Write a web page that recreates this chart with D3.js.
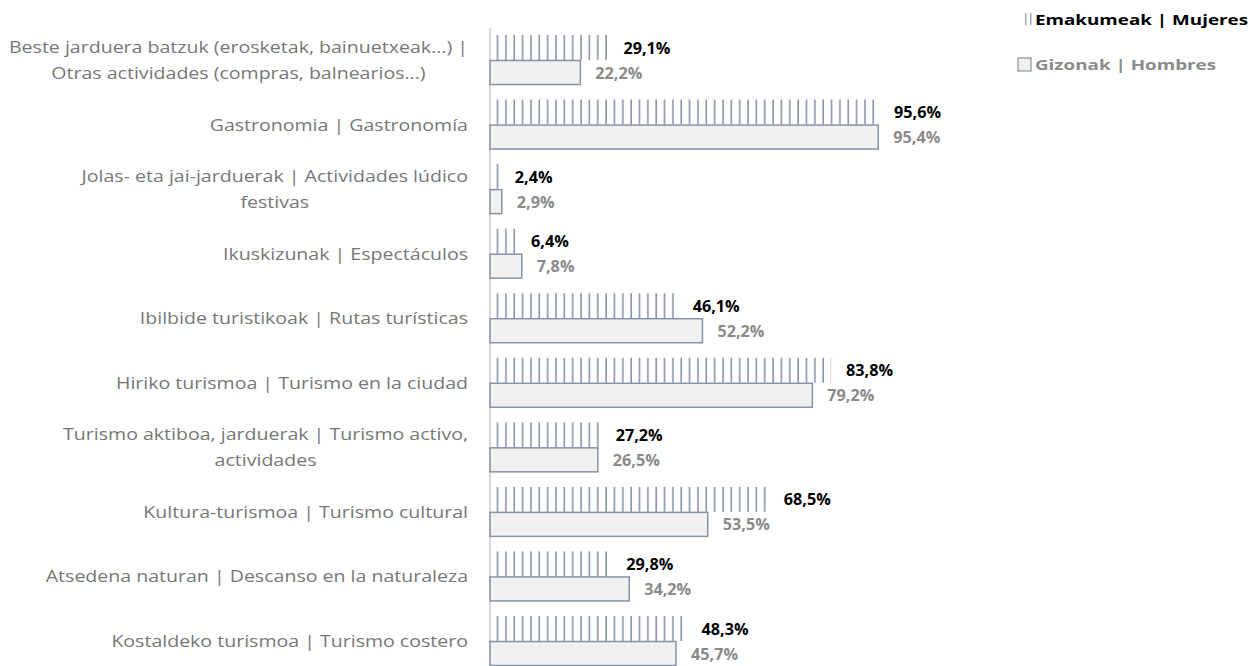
<!DOCTYPE html>
<html>
<head>
<meta charset="utf-8">
<script src="https://cdn.jsdelivr.net/npm/d3@7"></script>
<style>
  html, body { margin: 0; padding: 0; background: #ffffff; }
  svg { display: block; font-family: "Open Sans", "Noto Sans", sans-serif; }
</style>
</head>
<body>
<svg id="chart" width="1251" height="666"></svg>
<script>
// Activity categories, top to bottom (label lines split where the text wraps)
const categories = [
  ["Beste jarduera batzuk (erosketak, bainuetxeak...) |", "Otras actividades (compras, balnearios...)"],
  ["Gastronomia | Gastronomía"],
  ["Jolas- eta jai-jarduerak | Actividades lúdico", "festivas"],
  ["Ikuskizunak | Espectáculos"],
  ["Ibilbide turistikoak | Rutas turísticas"],
  ["Hiriko turismoa | Turismo en la ciudad"],
  ["Turismo aktiboa, jarduerak | Turismo activo,", "actividades"],
  ["Kultura-turismoa | Turismo cultural"],
  ["Atsedena naturan | Descanso en la naturaleza"],
  ["Kostaldeko turismoa | Turismo costero"]
];
const women = [29.1, 95.6, 2.4, 6.4, 46.1, 83.8, 27.2, 68.5, 29.8, 48.3];
const men   = [22.2, 95.4, 2.9, 7.8, 52.2, 79.2, 26.5, 53.5, 34.2, 45.7];
const seriesNames = ["Emakumeak | Mujeres", "Gizonak | Hombres"];

const svg = d3.select("#chart");
const x0 = 490;
const x = d3.scaleLinear().domain([0, 100]).range([x0, x0 + 407]);
const keys = categories.map((c, i) => i);
const y = d3.scalePoint().domain(keys).range([60, 641]);
const barH = 25;
const fmt = v => d3.format(".1f")(v).replace(".", ",") + "%";

// Natural width of a string at a given size/weight
function textWidth(text, size, weight) {
  const t = svg.append("text").attr("font-size", size).attr("font-weight", weight).text(text);
  const w = t.node().getComputedTextLength();
  t.remove();
  return w;
}
// Horizontal widening so the geometric face proportions are kept
const labelSize = 16;
const labelStretch = 459 / textWidth(categories[0][0], labelSize, "normal");
const legendSize = 15;
const legendStretch = 213 / textWidth(seriesNames[0], legendSize, "bold");
const valueSize = 16;
const valueStretch = 47 / textWidth("29,1%", valueSize, "bold");

function stretch(sel, k) {
  sel.each(function () {
    const w = this.getComputedTextLength();
    d3.select(this).attr("textLength", w * k).attr("lengthAdjust", "spacingAndGlyphs");
  });
}

// Vertical-stripe fill for the women series
const defs = svg.append("defs");
const pat = defs.append("pattern")
  .attr("id", "stripes")
  .attr("patternUnits", "userSpaceOnUse")
  .attr("x", x0).attr("y", 0)
  .attr("width", 8.35).attr("height", 666);
pat.append("rect")
  .attr("x", 6.8).attr("y", 0).attr("width", 2.2).attr("height", 666)
  .attr("fill", "#8791a7");

// Axis line
svg.append("line")
  .attr("x1", x0).attr("x2", x0)
  .attr("y1", 28).attr("y2", 666)
  .attr("stroke", "#d9d9d9").attr("stroke-width", 2);

// Category labels: right-aligned block, wrapped lines centred within it
const labelRight = 468;
const lab = svg.append("g").attr("font-size", labelSize).attr("fill", "#777777");
categories.forEach((lines, i) => {
  const t = lab.append("text");
  const n = lines.length;
  lines.forEach((s, j) => {
    t.append("tspan").attr("x", labelRight)
      .attr("y", y(i) + (j - (n - 1) / 2) * 26)
      .attr("dominant-baseline", "central")
      .attr("text-anchor", "end").text(s);
  });
  const tsp = t.selectAll("tspan");
  stretch(tsp, labelStretch);
  if (n > 1) {
    const wmax = d3.max(tsp.nodes(), d => +d.getAttribute("textLength"));
    tsp.attr("x", labelRight - wmax / 2).attr("text-anchor", "middle");
  }
});

// Women bars (striped)
svg.append("g").selectAll("rect").data(women).join("rect")
  .attr("x", x0)
  .attr("y", (d, i) => y(i) - barH)
  .attr("width", d => x(d) - x0)
  .attr("height", barH)
  .attr("fill", "url(#stripes)");

// Men bars (light fill, outlined)
svg.append("g").selectAll("rect").data(men).join("rect")
  .attr("x", x0)
  .attr("y", (d, i) => y(i) + 0.5)
  .attr("width", d => x(d) - x0)
  .attr("height", barH - 1)
  .attr("fill", "#f1f1f1")
  .attr("stroke", "#8791a7").attr("stroke-width", 1.5);

// Value labels
const vl = svg.append("g").attr("font-size", valueSize).attr("font-weight", "bold");
const wl = vl.selectAll("text.w").data(women).join("text").attr("class", "w")
  .attr("x", d => x(d) + 15).attr("y", (d, i) => y(i) - barH / 2)
  .attr("dominant-baseline", "central").attr("fill", "#000000")
  .text(fmt);
const ml = vl.selectAll("text.m").data(men).join("text").attr("class", "m")
  .attr("x", d => x(d) + 15).attr("y", (d, i) => y(i) + barH / 2)
  .attr("dominant-baseline", "central").attr("fill", "#8a8a8a")
  .text(fmt);
stretch(wl, valueStretch);
stretch(ml, valueStretch);

// Legend
const lg = svg.append("g").attr("font-size", legendSize).attr("font-weight", "bold");
const l1 = lg.append("g");
l1.append("rect").attr("x", 1025).attr("y", 13).attr("width", 1.5).attr("height", 12).attr("fill", "#a3abbb");
l1.append("rect").attr("x", 1030).attr("y", 13).attr("width", 1.5).attr("height", 12).attr("fill", "#a3abbb");
const lt1 = l1.append("text").attr("x", 1035).attr("y", 19).attr("dominant-baseline", "central")
  .attr("fill", "#000000").text(seriesNames[0]);
const l2 = lg.append("g");
l2.append("rect").attr("x", 1018).attr("y", 58).attr("width", 13).attr("height", 13)
  .attr("fill", "#f1f1f1").attr("stroke", "#8791a7").attr("stroke-width", 1.2);
const lt2 = l2.append("text").attr("x", 1035).attr("y", 64).attr("dominant-baseline", "central")
  .attr("fill", "#8a8a8a").text(seriesNames[1]);
stretch(lt1, legendStretch);
stretch(lt2, legendStretch);
</script>
</body>
</html>
